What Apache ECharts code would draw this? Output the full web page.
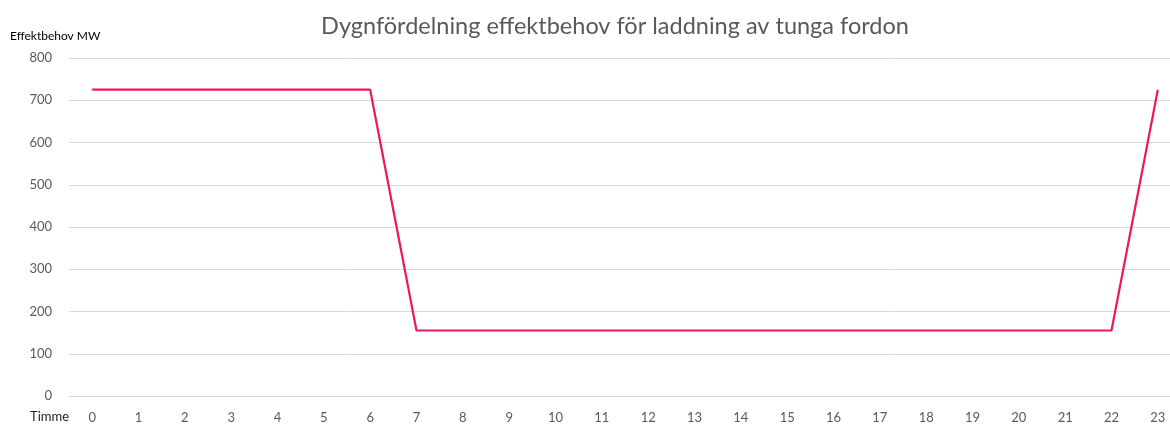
<!DOCTYPE html>
<html>
<head>
<meta charset="utf-8">
<script src="https://cdn.jsdelivr.net/npm/echarts@6/dist/echarts.min.js"></script>
<style>html,body{margin:0;padding:0;background:#fff;}#c{width:1170px;height:425px;}</style>
</head>
<body>
<div id="c"></div>
<script>
const hours = ['0','1','2','3','4','5','6','7','8','9','10','11','12','13','14','15','16','17','18','19','20','21','22','23'];
const effekt = [725,725,725,725,725,725,725,155,155,155,155,155,155,155,155,155,155,155,155,155,155,155,155,725];
const yTicks = [0,100,200,300,400,500,600,700,800];

const chart = echarts.init(document.getElementById('c'));
const FONT = 'Lato';
chart.setOption({
  animation: false,
  title: {
    text: 'Dygnfördelning effektbehov för laddning av tunga fordon',
    left: 610, top: 9, textAlign: 'center',
    textStyle: {fontFamily: FONT, fontSize: 23.5, fontWeight: 'normal', color: '#595959'}
  },
  graphic: [
    {type: 'text', left: 10, top: 30, style: {text: 'Effektbehov MW', fontFamily: FONT, fontSize: 12, fill: '#000'}},
    {type: 'text', left: 30, top: 410, style: {text: 'Timme', fontFamily: FONT, fontSize: 13, fill: '#222'}}
  ],
  grid: {left: 69, top: 58, width: 1112, height: 338, containLabel: false, outerBoundsMode: 'none'},
  xAxis: {
    type: 'category', data: hours, boundaryGap: true,
    axisLine: {show: false}, axisTick: {show: false},
    axisLabel: {fontFamily: FONT, fontSize: 13, color: '#595959', margin: 15}
  },
  yAxis: {
    type: 'value', min: yTicks[0], max: yTicks[yTicks.length-1], interval: 100,
    axisLine: {show: false}, axisTick: {show: false},
    axisLabel: {fontFamily: FONT, fontSize: 13, color: '#595959', margin: 17},
    splitLine: {lineStyle: {color: '#d9d9d9', width: 1}}
  },
  series: [{
    type: 'line', data: effekt, symbol: 'none',
    lineStyle: {color: '#EC1763', width: 2.2}
  }]
});
</script>
</body>
</html>
